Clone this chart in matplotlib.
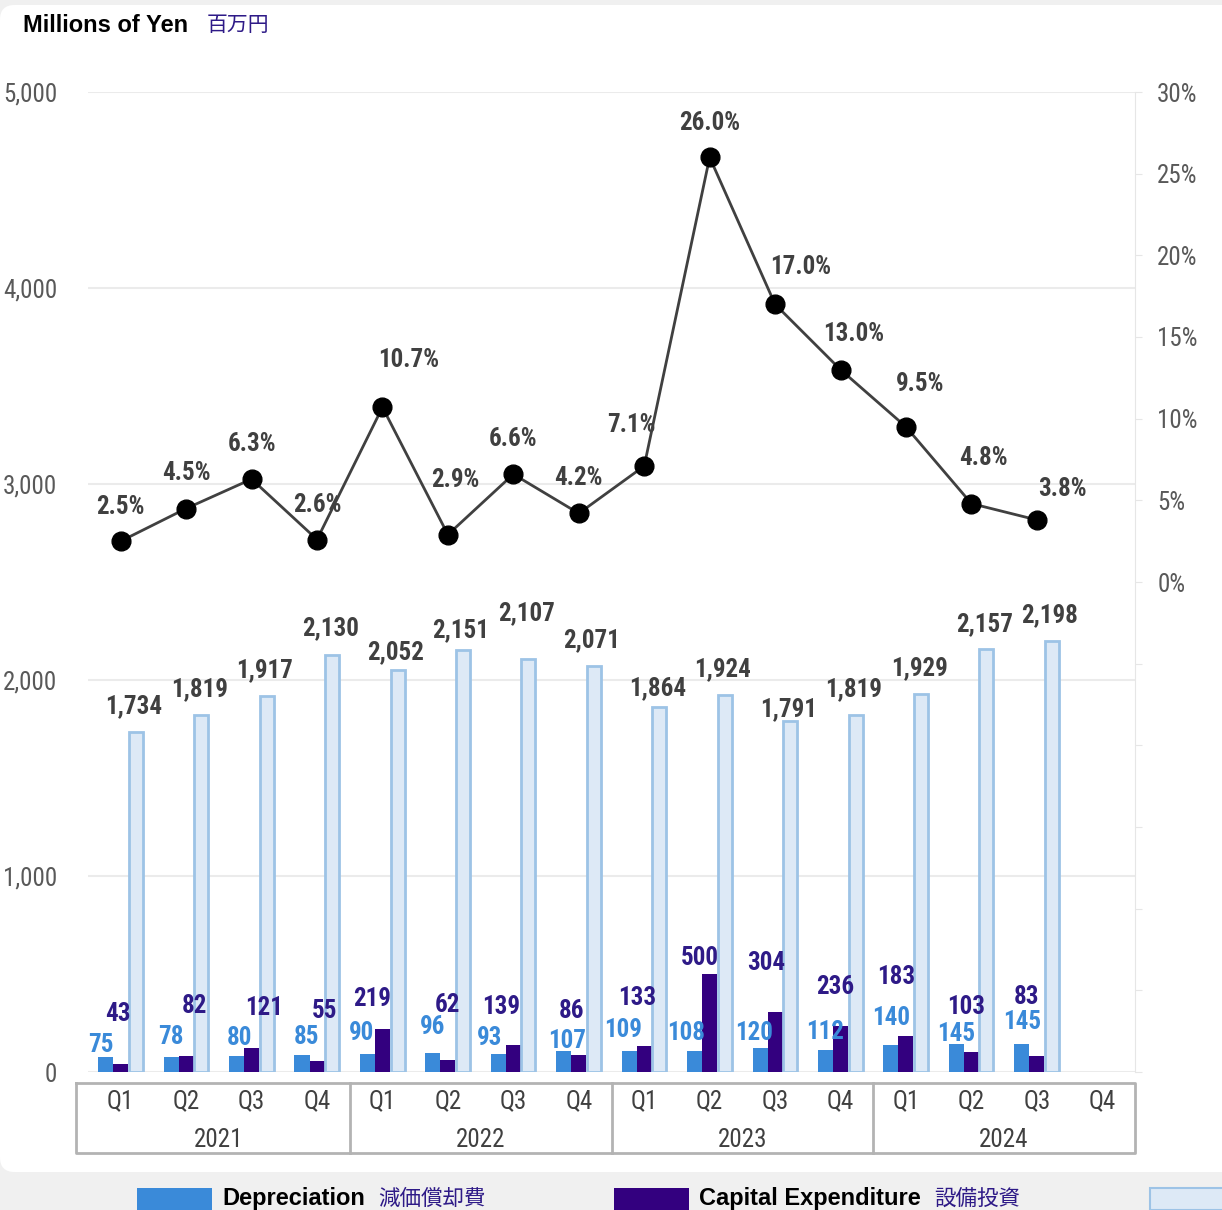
import matplotlib
matplotlib.use("Agg")
import matplotlib.pyplot as plt
from matplotlib import font_manager
from matplotlib.patches import FancyBboxPatch, Rectangle
from matplotlib.transforms import blended_transform_factory
import numpy as np

# quarterly figures, millions of yen (Q4 2024 not reported yet)
years = ["2021", "2022", "2023", "2024"]
quarters = ["Q1", "Q2", "Q3", "Q4"]
depreciation = [75, 78, 80, 85, 90, 96, 93, 107, 109, 108, 120, 112, 140, 145, 145, np.nan]
capex = [43, 82, 121, 55, 219, 62, 139, 86, 133, 500, 304, 236, 183, 103, 83, np.nan]
sales = [1734, 1819, 1917, 2130, 2052, 2151, 2107, 2071, 1864, 1924, 1791, 1819, 1929, 2157, 2198, np.nan]
capex_ratio = [2.5, 4.5, 6.3, 2.6, 10.7, 2.9, 6.6, 4.2, 7.1, 26.0, 17.0, 13.0, 9.5, 4.8, 3.8, np.nan]

# hand placed label nudges (pixels), as in the original slide
dep_dx = [-5, 0, 3, 5, -6, 0, -9, 3, -6, -8, -6, 0, 0, 0, 0]
dep_dy = [12, 20, 18, 18, 21, 26, 16, 10, 21, 18, 15, 18, 27, 10, 22]
cap_dx = [-3, 8, 12, 8, -10, 0, -12, -7, -7, -10, -9, -5, -10, -5, -10]
cap_dy = [50, 50, 40, 50, 30, 55, 38, 44, 48, 16, 49, 39, 59, 45, 59]
sales_dy = [26, 26, 26, 26, 18, 20, 46, 26, 18, 26, 12, 26, 26, 25, 26]
pct_dx = [0, 0, 0, 0, 26, 7, 0, 0, -13, 0, 26, 13, 14, 12, 26]
pct_dy = [34, 35, 35, 35, 47, 55, 35, 35, 41, 34, 37, 36, 43, 46, 31]

DEP = "#3a8ad9"
CAP = "#33007f"
CAP_TXT = "#2e1a87"
LIGHT = "#dde9f6"
LIGHT_EDGE = "#9dc3e6"
GREY_TXT = "#404040"
CJK = "Noto Sans CJK JP"


def pick_narrow_font():
    # the slide uses an Arial Narrow look; take a narrow sans if one is installed
    found = {}
    for f in font_manager.fontManager.ttflist:
        found.setdefault(f.name, set()).add(f.stretch)
    for name in ["Liberation Sans Narrow", "Arial Narrow", "Roboto Condensed",
                 "Open Sans Condensed", "Noto Sans Condensed", "Fira Sans Condensed"]:
        if name in found:
            return name, "normal", 18
    for name in ["Roboto", "Open Sans", "Noto Sans"]:
        if name in found and found[name] & {"condensed", "semi-condensed"}:
            return name, "condensed", 18
    return "Liberation Sans", "normal", 16


NARROW, STRETCH, LBL = pick_narrow_font()
plt.rcParams["font.family"] = [NARROW, CJK, "DejaVu Sans"]
plt.rcParams["font.stretch"] = STRETCH

W, H = 1222, 1210
fig = plt.figure(figsize=(W / 100, H / 100), dpi=100, facecolor="#f0f0f0")

card = FancyBboxPatch((0, 38 / H), 1.05, (1205 - 38) / H, boxstyle="round,pad=0,rounding_size=0.012",
                      transform=fig.transFigure, facecolor="white", edgecolor="none", zorder=-5)
fig.patches.append(card)

ax = fig.add_axes([88 / W, (H - 1072) / H, 1047 / W, 980 / H])
ax.set_facecolor("none")
x = np.arange(len(sales))
w = 0.23

ax.bar(x - w, depreciation, w, color=DEP, zorder=3)
ax.bar(x, capex, w, color=CAP, zorder=3)
ax.bar(x + w, sales, w * 0.93, facecolor=LIGHT, edgecolor=LIGHT_EDGE, linewidth=2, zorder=3)

ax.set_xlim(-0.5, len(sales) - 0.5)
ax.set_ylim(0, 5000)
ax.set_yticks(range(0, 5001, 1000))
ax.set_yticklabels([f"{v:,}" for v in range(0, 5001, 1000)])
ax.tick_params(axis="y", length=0, pad=22, labelcolor="#595959", labelsize=LBL)
ax.set_xticks([])
ax.grid(axis="y", color="#ebebeb", lw=1.5)
ax.set_axisbelow(True)
for s in ax.spines.values():
    s.set_visible(False)

lbl = dict(fontsize=LBL, fontweight="bold", ha="center", va="center",
           textcoords="offset pixels", zorder=6)
for i in range(15):
    ax.annotate(f"{depreciation[i]:,}", (x[i] - w, depreciation[i]), xytext=(dep_dx[i], dep_dy[i]),
                color=DEP, **lbl)
    ax.annotate(f"{capex[i]:,}", (x[i], capex[i]), xytext=(cap_dx[i], cap_dy[i]),
                color=CAP_TXT, **lbl)
    ax.annotate(f"{sales[i]:,}", (x[i] + w, sales[i]), xytext=(-2, sales_dy[i]),
                color=GREY_TXT, **lbl)

# ratio line on the right axis
ax2 = ax.twinx()
ax2.set_ylim(-30, 30)
ticks = np.arange(-30, 31, 5)
ax2.set_yticks(ticks)
ax2.set_yticklabels([f"{t}%" if t >= 0 else "" for t in ticks])
ax2.tick_params(axis="y", length=5, color="#e6e6e6", pad=11, labelcolor="#595959", labelsize=LBL)
for k, s in ax2.spines.items():
    s.set_visible(k == "right")
ax2.spines["right"].set_color("#e6e6e6")
ax2.plot(x, capex_ratio, color=GREY_TXT, lw=2, marker="o", ms=13.5,
         mfc="black", mec="black", zorder=4)
for i in range(15):
    ax2.annotate(f"{capex_ratio[i]:.1f}%", (x[i], capex_ratio[i]), xytext=(pct_dx[i], pct_dy[i]),
                 color=GREY_TXT, **lbl)

# category table under the plot
tr = blended_transform_factory(ax.transData, ax.transAxes)
def fy(py):
    return (1072 - py) / 980
top, bot = fy(1083), fy(1153)
left, right = -0.5 - 12 / 65.44, len(sales) - 0.5
box = dict(color="#b3b3b3", lw=2, transform=tr, clip_on=False)
ax.plot([left, right, right, left, left], [top, top, bot, bot, top], **box)
for b in (3.5, 7.5, 11.5):
    ax.plot([b, b], [top, bot], **box)
for i in range(len(sales)):
    ax.text(x[i], fy(1101), quarters[i % 4], transform=tr, ha="center", va="center",
            fontsize=LBL, color=GREY_TXT)
for j, yr in enumerate(years):
    ax.text(4 * j + 1.5, fy(1140), yr, transform=tr, ha="center", va="center",
            fontsize=LBL, color=GREY_TXT)

# header
fig.text(23 / W, 1 - 25 / H, "Millions of Yen", fontsize=17, fontweight="bold",
         family="Liberation Sans", stretch="normal", color="black", va="center")
fig.text(207 / W, 1 - 25 / H, "百万円", fontsize=15, family=CJK, color=CAP_TXT, va="center")

# legend strip (cut off at the right like the original)
renderer = fig.canvas.get_renderer()
legend = [(137, DEP, "Depreciation", "減価償却費"),
          (614, CAP, "Capital Expenditure", "設備投資")]
for bx, fc, en, jp in legend:
    fig.patches.append(Rectangle((bx / W, 0), 75 / W, 22 / H, transform=fig.transFigure,
                                 facecolor=fc, edgecolor="none"))
    t = fig.text((bx + 85) / W, 11 / H, en, fontsize=17, fontweight="bold", color="black",
                 family=["Liberation Sans", CJK], stretch="normal", va="center")
    end = t.get_window_extent(renderer).x1
    fig.text((end + 13) / W, 11 / H, jp, fontsize=15.5, family=CJK, color=CAP_TXT, va="center")
fig.patches.append(Rectangle((1150 / W, 0), 80 / W, 22 / H, transform=fig.transFigure,
                             facecolor=LIGHT, edgecolor=LIGHT_EDGE, lw=1.5))

fig.savefig("out.png", dpi=100, facecolor=fig.get_facecolor())
